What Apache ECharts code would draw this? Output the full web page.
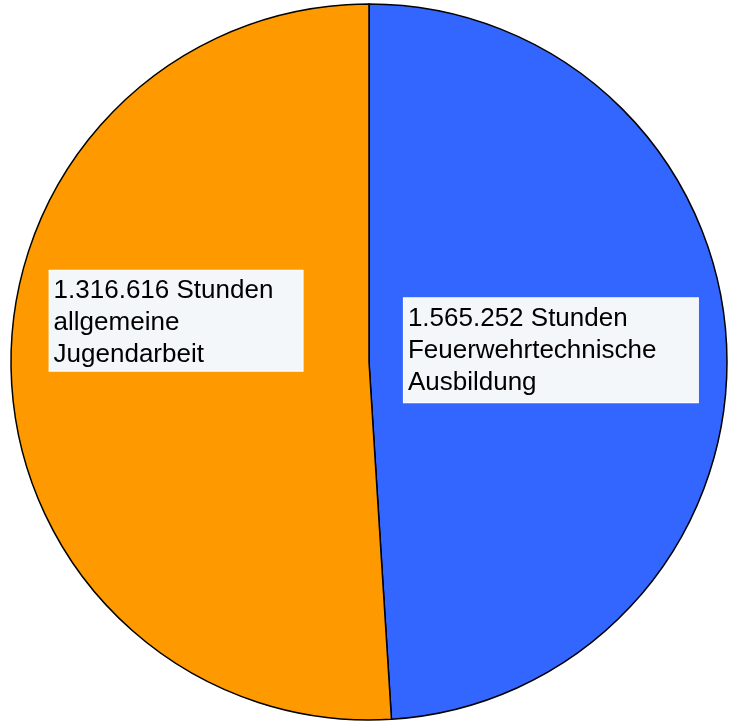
<!DOCTYPE html>
<html>
<head>
<meta charset="utf-8">
<script src="https://cdn.jsdelivr.net/npm/echarts@6/dist/echarts.min.js"></script>
<style>
html,body{margin:0;padding:0;background:#fff;}
#chart{width:731px;height:728px;}
</style>
</head>
<body>
<div id="chart"></div>
<script>
// Slice shares (angles), clockwise from 12 o'clock
const categories = ['Feuerwehrtechnische Ausbildung', 'allgemeine Jugendarbeit'];
const sliceShares = [49.0, 51.0];
const hourLabels = ['1.565.252 Stunden', '1.316.616 Stunden'];
const descLines = [['Feuerwehrtechnische', 'Ausbildung'], ['allgemeine', 'Jugendarbeit']];
const colors = ['#3366ff', '#ff9900'];
const labelWidths = [286, 245];
const labelShift = [[0, -6], [-11, -47]];

const chart = echarts.init(document.getElementById('chart'), null, {renderer: 'canvas'});
const data = categories.map((c, i) => ({
  name: c,
  value: sliceShares[i],
  itemStyle: {color: colors[i]},
  label: {width: labelWidths[i], padding: i === 0 ? [5, 4, 3, 4] : [4, 4, 0, 4]}
}));

chart.setOption({
  animation: false,
  backgroundColor: '#ffffff',
  series: [{
    type: 'pie',
    center: [369, 362],
    radius: 358,
    startAngle: 90,
    clockwise: true,
    silent: true,
    data: data,
    itemStyle: {borderColor: '#000000', borderWidth: 1.5},
    label: {
      show: true,
      position: 'inside',
      formatter: p => [hourLabels[p.dataIndex]].concat(descLines[p.dataIndex]).map(s => '{t|' + s + '}').join('\n'),
      fontFamily: 'Liberation Sans, Arial, sans-serif',
      fontSize: 26,
      lineHeight: 32,
      color: '#000000',
      rich: {
        t: {align: 'left', fontSize: 26, lineHeight: 32, color: '#000000', fontFamily: 'Liberation Sans, Arial, sans-serif'}
      },
      backgroundColor: '#f3f7fa',
      borderColor: '#ffffff',
      borderWidth: 1,
      overflow: 'none'
    },
    labelLine: {show: false},
    labelLayout: p => ({dx: labelShift[p.dataIndex][0], dy: labelShift[p.dataIndex][1]}),
    emphasis: {disabled: true}
  }]
});
</script>
</body>
</html>
